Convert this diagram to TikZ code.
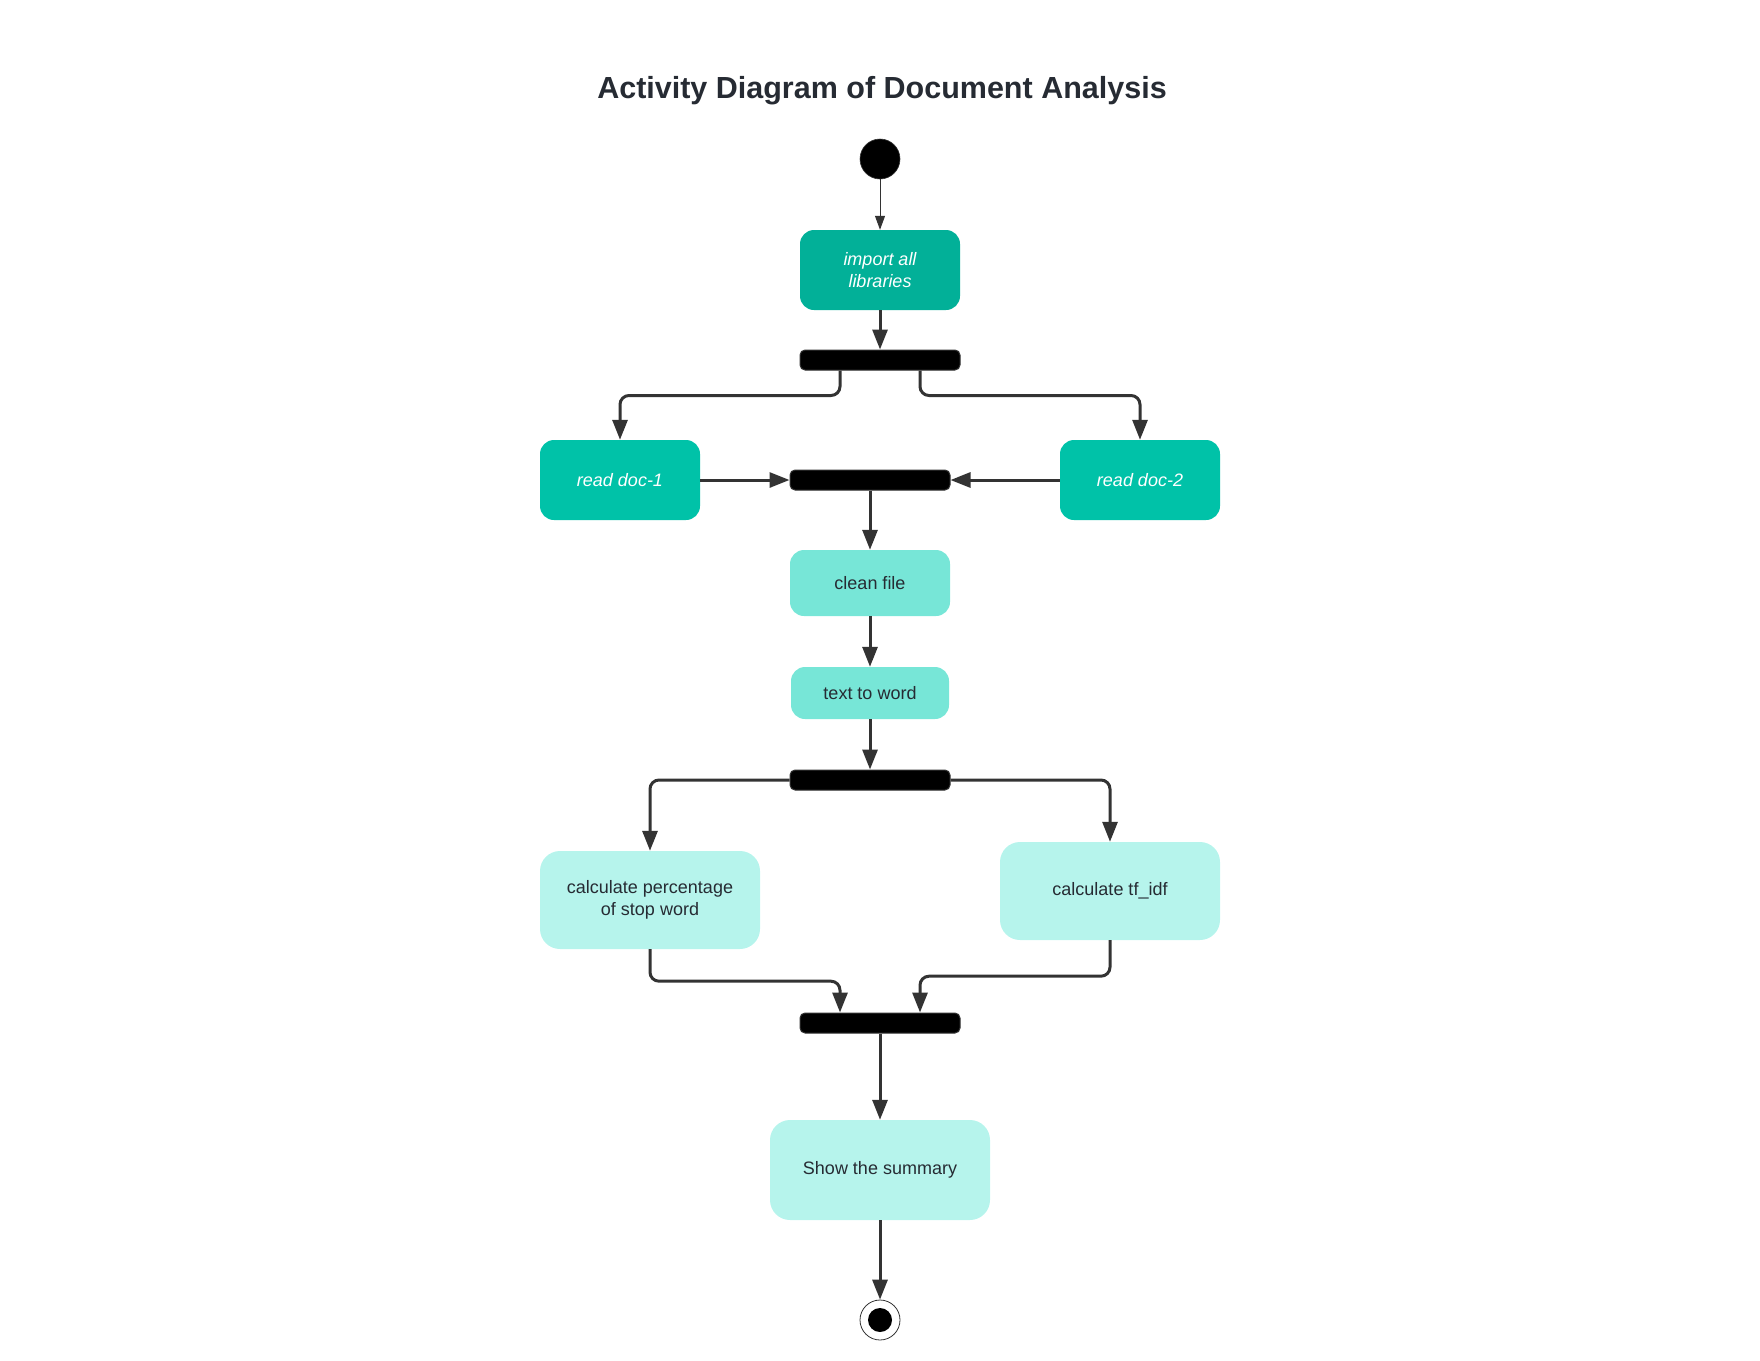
\documentclass[tikz,border=0pt]{standalone}
\usepackage{fontspec}
\setmainfont{Liberation Sans}
\usetikzlibrary{arrows.meta}

\definecolor{tealdark}{HTML}{02B098}
\definecolor{tealmid}{HTML}{00C2A8}
\definecolor{teallight}{HTML}{77E6D7}
\definecolor{tealpale}{HTML}{B6F4EC}
\definecolor{linegray}{HTML}{333333}
\definecolor{inkgray}{HTML}{262B33}

\tikzset{
	act/.style={rectangle, rounded corners=14pt, minimum width=160pt, minimum height=80pt, inner sep=0pt, align=center, text=inkgray, font=\fontsize{18}{21.5}\selectfont},
	actdark/.style={act, fill=tealdark, text=white, font=\fontsize{18}{21.5}\selectfont\itshape},
	actmid/.style={act, fill=tealmid, text=white, font=\fontsize{18}{21.5}\selectfont\itshape},
	actlight/.style={act, fill=teallight},
	actpale/.style={act, fill=tealpale, rounded corners=20pt, minimum width=220pt, minimum height=98pt},
	bar/.style={rectangle, rounded corners=5pt, fill=black, draw=linegray, line width=1pt, minimum width=160pt, minimum height=20pt, inner sep=0pt},
	flow/.style={draw=linegray, line width=3pt, rounded corners=9pt, -{Triangle[length=20pt,width=15pt]}},
}

\begin{document}
\begin{tikzpicture}[x=1pt,y=-1pt]
	\useasboundingbox (0,0) rectangle (1760,1360);

	\node[font=\fontsize{30.5}{36}\selectfont\bfseries, text=inkgray] (title) at (882,91) {Activity Diagram of Document Analysis};

	\node[circle, fill=black, draw=linegray, line width=0.6pt, minimum size=40pt, inner sep=0pt] (start) at (880,159) {};
	\node[actdark] (import) at (880,270) {import all\\libraries};
	\node[bar] (fork) at (880,360) {};
	\node[actmid] (doc1) at (620,480) {read doc-1};
	\node[actmid] (doc2) at (1140,480) {read doc-2};
	\node[bar] (join) at (870,480) {};
	\node[actlight, minimum height=66pt] (clean) at (870,583) {clean file};
	\node[actlight, minimum width=158pt, minimum height=52pt] (word) at (870,693) {text to word};
	\node[bar] (split) at (870,780) {};
	\node[actpale] (pct) at (650,900) {calculate percentage\\of stop word};
	\node[actpale] (tfidf) at (1110,891) {calculate tf\_idf};
	\node[bar] (merge) at (880,1023) {};
	\node[actpale, minimum height=100pt] (summary) at (880,1170) {Show the summary};
	\node[circle, fill=white, draw=linegray, line width=0.8pt, minimum size=40pt, inner sep=0pt] (stop) at (880,1320) {};
	\fill (stop.center) circle (12pt);

	\draw[draw=linegray, line width=1pt, -{Triangle[length=14pt,width=10pt]}] (start) -- (import);
	\draw[flow] (import) -- (fork);
	\draw[flow] ([xshift=-40pt]fork.south) -- ++(0,25) -| (doc1.north);
	\draw[flow] ([xshift=40pt]fork.south) -- ++(0,25) -| (doc2.north);
	\draw[flow] (doc1) -- (join);
	\draw[flow] (doc2) -- (join);
	\draw[flow] (join) -- (clean);
	\draw[flow] (clean) -- (word);
	\draw[flow] (word) -- (split);
	\draw[flow] (split.west) -| (pct.north);
	\draw[flow] (split.east) -| (tfidf.north);
	\draw[flow] (pct.south) -- ++(0,32) -| ([xshift=-40pt]merge.north);
	\draw[flow] (tfidf.south) -- ++(0,36) -| ([xshift=40pt]merge.north);
	\draw[flow] (merge) -- (summary);
	\draw[flow] (summary) -- (stop);
\end{tikzpicture}
\end{document}
